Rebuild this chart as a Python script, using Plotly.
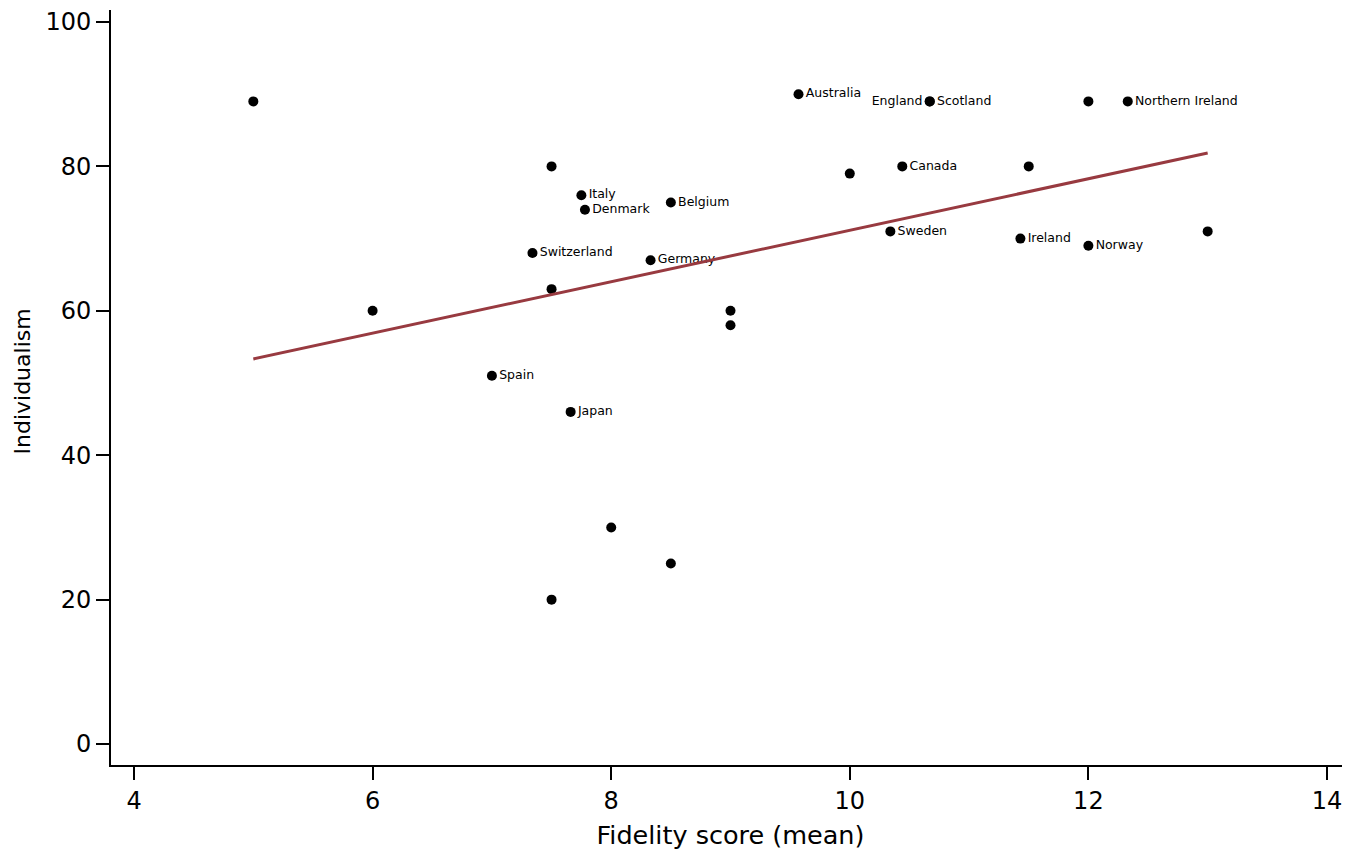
import numpy as np
import plotly.graph_objects as go

# fidelity score (mean) vs individualism, one point per country
fidelity = [5.0, 6.0, 7.5, 7.5, 7.5, 7.0, 7.34, 7.66, 7.75, 7.78, 8.0, 8.33, 8.5, 8.5,
            9.0, 9.0, 9.57, 10.0, 10.34, 10.44, 10.67, 10.67, 11.43, 11.5, 12.0, 12.0,
            12.33, 13.0]
individualism = [89, 60, 80, 63, 20, 51, 68, 46, 76, 74, 30, 67, 75, 25,
                 60, 58, 90, 79, 71, 80, 89, 89, 70, 80, 89, 69,
                 89, 71]
countries = ["", "", "", "", "", "Spain", "Switzerland", "Japan", "Italy", "Denmark", "",
             "Germany", "Belgium", "", "", "", "Australia", "", "Sweden", "Canada",
             "England", "Scotland", "Ireland", "", "", "Norway", "Northern Ireland", ""]
label_side = ["middle left" if c == "England" else "middle right" for c in countries]

x_ticks = [4, 6, 8, 10, 12, 14]
y_ticks = [0, 20, 40, 60, 80, 100]

# linear fit, drawn over the range of the data
slope, intercept = np.polyfit(fidelity, individualism, 1)
fit_x = [min(fidelity), max(fidelity)]
fit_y = [intercept + slope * v for v in fit_x]

FONT = "DejaVu Sans, Arial, sans-serif"

fig = go.Figure()
fig.add_trace(go.Scatter(
    x=fidelity, y=individualism, mode="markers+text",
    text=countries, textposition=label_side,
    textfont=dict(family=FONT, size=12.5, color="black"),
    marker=dict(color="black", size=10),
    showlegend=False,
))
fig.add_trace(go.Scatter(
    x=fit_x, y=fit_y, mode="lines",
    line=dict(color="#983a40", width=3),
    showlegend=False,
))

axis_common = dict(
    showgrid=False, zeroline=False, showline=True, linecolor="black", linewidth=2,
    ticks="outside", ticklen=13, tickwidth=2, tickcolor="black",
    tickfont=dict(family=FONT, size=24, color="black"),
    ticklabeloverflow="allow",
)

fig.update_xaxes(axis_common, range=[3.807, 14.193], tickvals=x_ticks,
                 title_text="Fidelity score (mean)", title_standoff=12,
                 title_font=dict(family=FONT, size=25.5, color="black"))
fig.update_yaxes(axis_common, range=[-2.9, 101.66], tickvals=y_ticks)

# y title placed by hand, close to the left edge like the original
fig.add_annotation(
    text="Individualism", textangle=-90, showarrow=False,
    xref="paper", yref="paper", x=0, y=0.5, xanchor="center", yanchor="middle",
    xshift=-89, yshift=6,
    font=dict(family=FONT, size=22, color="black"),
)

# the page body adds an 8px margin, so the figure is drawn 8px smaller
fig.update_layout(
    width=1342, height=842,
    margin=dict(l=103, r=0, t=0, b=85),
    plot_bgcolor="white", paper_bgcolor="white",
)

fig.write_html("out.html")
